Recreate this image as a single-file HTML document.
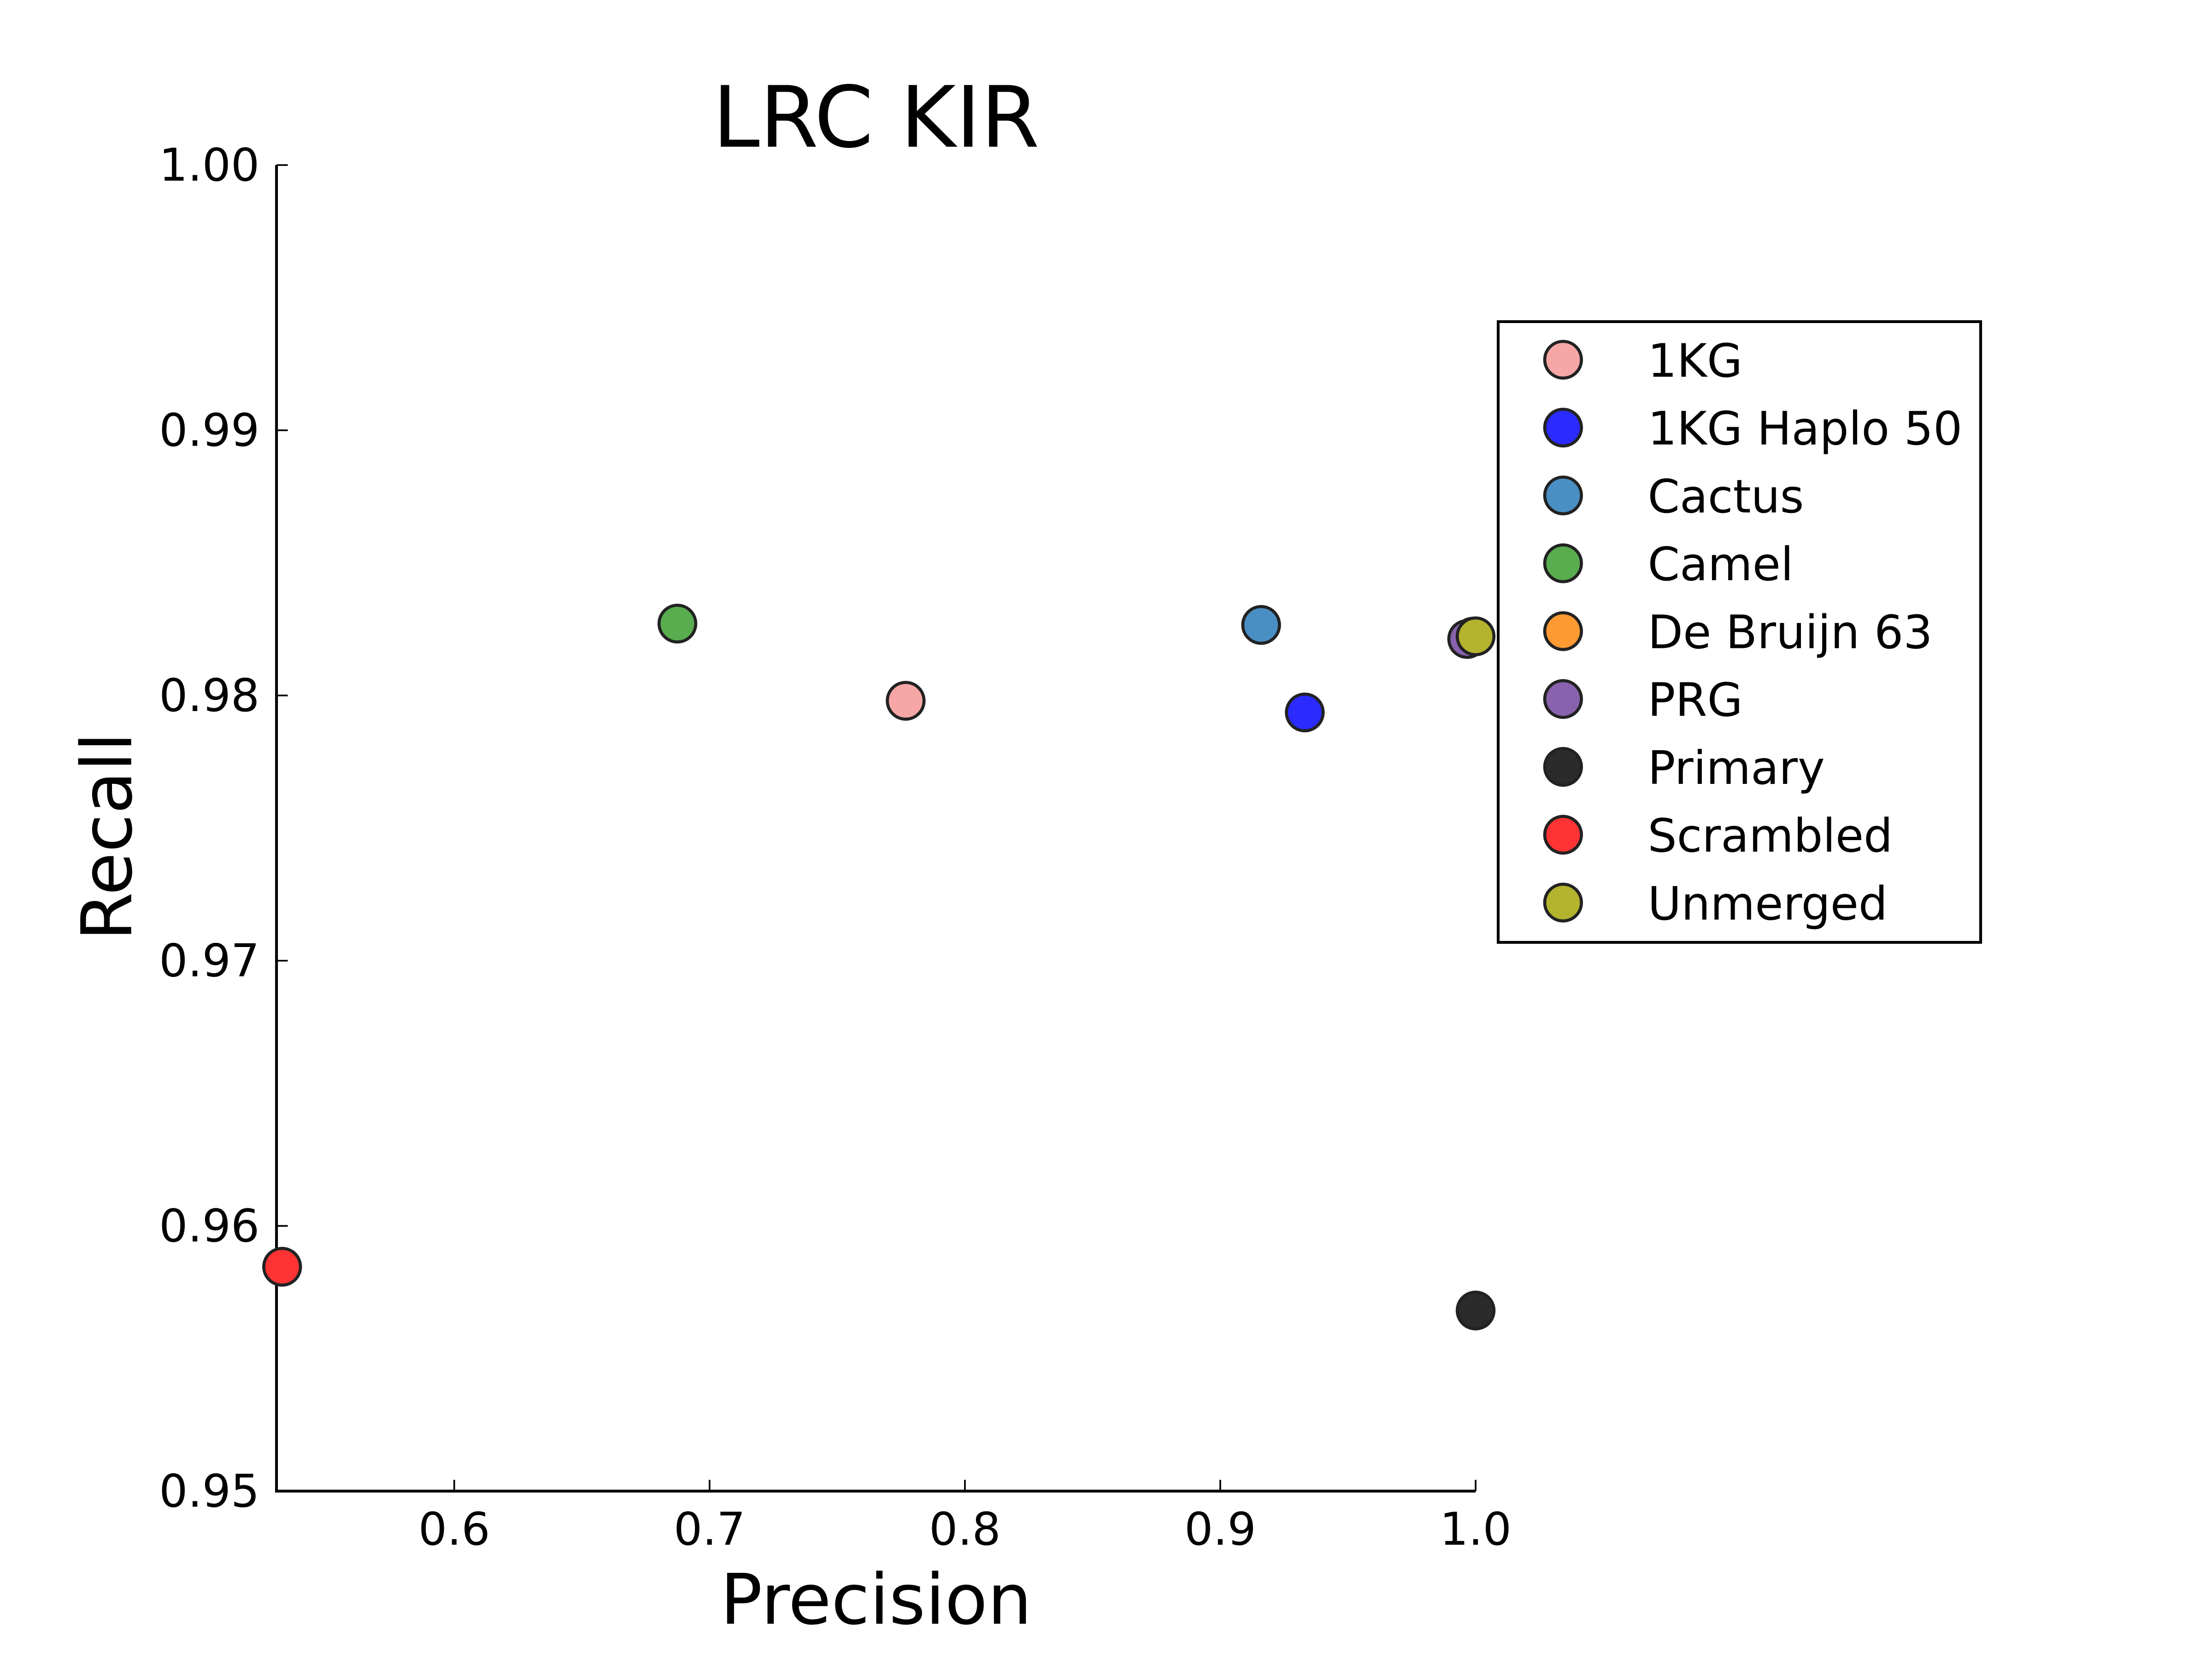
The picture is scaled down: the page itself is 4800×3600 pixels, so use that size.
<!DOCTYPE html>
<html><head><meta charset="utf-8"><style>
html,body{margin:0;padding:0;background:#fff;}
svg{display:block;}
text{font-family:"DejaVu Sans","Liberation Sans",sans-serif;fill:#000;}
</style></head><body>
<svg id="chart" width="4800" height="3600" viewBox="0 0 1568 1176" preserveAspectRatio="none" xmlns="http://www.w3.org/2000/svg">
<text x="621" y="104" font-size="60" text-anchor="middle">LRC KIR</text>
<text x="621" y="1151" font-size="49.5" text-anchor="middle">Precision</text>
<text transform="translate(93,593) rotate(-90)" font-size="49.5" text-anchor="middle">Recall</text>
<g id="axes"></g>
<g id="points"></g>
<g id="legend"></g>
</svg>
<script>
const names = ["1KG","1KG Haplo 50","Cactus","Camel","De Bruijn 63","PRG","Primary","Scrambled","Unmerged"];
const precision = [0.7768,0.9331,0.9160,0.6874,0.9990,0.9967,1.0,0.5326,1.0];
const recall = [0.9798,0.97936,0.98266,0.98271,0.98222,0.98213,0.95681,0.95846,0.98223];
const colors = ["#f7a6a6","#2b2bff","#4a8fc4","#59ad4f","#ff9a33","#8962ae","#2b2b2b","#ff3333","#b3b32e"];
const xTicks = [0.6,0.7,0.8,0.9,1.0];
const xTickLabels = ["0.6","0.7","0.8","0.9","1.0"];
const yTicks = [0.95,0.96,0.97,0.98,0.99,1.00];
const yTickLabels = ["0.95","0.96","0.97","0.98","0.99","1.00"];
const XMIN=0.5304, XMAX=1.0, YMIN=0.95, YMAX=1.0;
const L=196,R=1046,T=117,B=1057;
const NS="http://www.w3.org/2000/svg";
function sx(v){return L+(v-XMIN)/(XMAX-XMIN)*(R-L);}
function sy(v){return B-(v-YMIN)/(YMAX-YMIN)*(B-T);}
function mk(tag,attrs,parent){const e=document.createElementNS(NS,tag);for(const k in attrs)e.setAttribute(k,attrs[k]);parent.appendChild(e);return e;}
const axes=document.getElementById('axes');
let e;
e=mk('line',{x1:L,y1:T,x2:L,y2:B+1,stroke:'#000','stroke-width':2},axes);


e=mk('line',{x1:L-1,y1:B,x2:R,y2:B,stroke:'#000','stroke-width':2},axes);


xTicks.forEach((t,i)=>{
  const x=sx(t);
  const tk=mk('line',{x1:x,y1:B,x2:x,y2:B-8,stroke:'#000','stroke-width':1.2},axes);
  
  
  const lb=mk('text',{x:x,y:B+38,'font-size':32,'text-anchor':'middle'},axes);
  lb.textContent=xTickLabels[i];
  
  
});
yTicks.forEach((t,i)=>{
  const y=sy(t);
  const tk=mk('line',{x1:L,y1:y,x2:L+8,y2:y,stroke:'#000','stroke-width':1.2},axes);
  
  
  const lb=mk('text',{x:184,y:y+11,'font-size':32,'text-anchor':'end'},axes);
  lb.textContent=yTickLabels[i];
  
  
});
const pts=document.getElementById('points');
names.forEach((n,i)=>{
  const c=mk('circle',{cx:sx(precision[i]),cy:sy(recall[i]),r:13,fill:colors[i],stroke:'#222','stroke-width':2.2},pts);
  
  
});
const lg=document.getElementById('legend');
e=mk('rect',{x:1062,y:228,width:342,height:440,fill:'#fff',stroke:'#000','stroke-width':2},lg);


names.forEach((n,i)=>{
  const y=255+48.1*i;
  const c=mk('circle',{cx:1108,cy:y,r:13,fill:colors[i],stroke:'#222','stroke-width':2.2},lg);
  
  
  const t=mk('text',{x:1168,y:y+12,'font-size':32.5},lg);
  t.textContent=n;
  
  
});
</script>
</body></html>
